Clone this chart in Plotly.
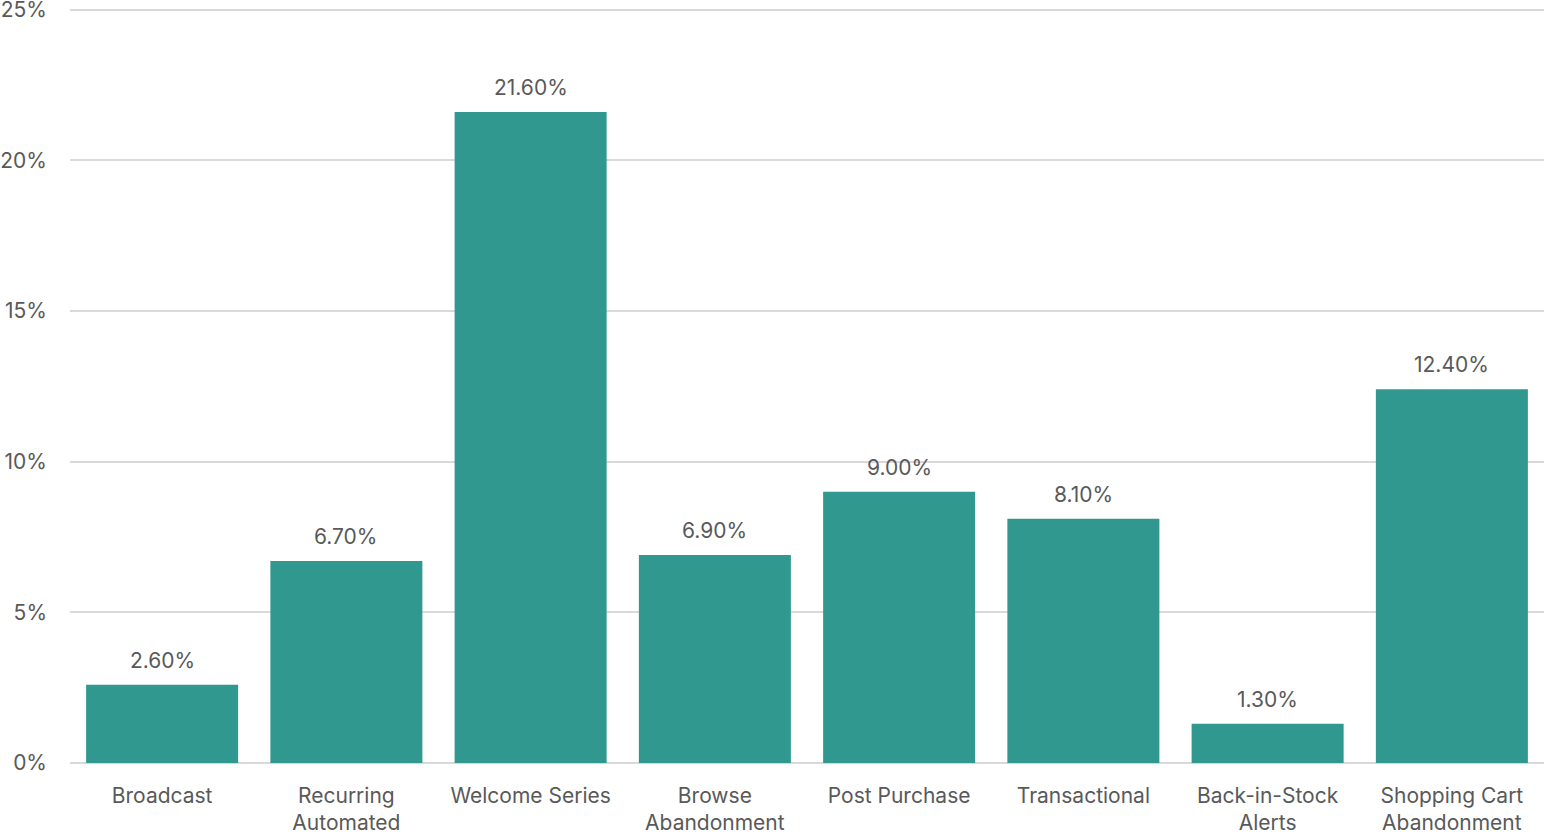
import plotly.graph_objects as go

# Email flow conversion rates by message type
categories = [
    "Broadcast",
    "Recurring<br>Automated",
    "Welcome Series",
    "Browse<br>Abandonment",
    "Post Purchase",
    "Transactional",
    "Back-in-Stock<br>Alerts",
    "Shopping Cart<br>Abandonment",
]
rates = [2.6, 6.7, 21.6, 6.9, 9.0, 8.1, 1.3, 12.4]
y_ticks = [0, 5, 10, 15, 20, 25]
y_tick_labels = ["0%", "5%", "10%", "15%", "20%", "25%"]

BAR_COLOR = "#31988f"
TEXT_COLOR = "#595959"
GRID_COLOR = "#d9d9d9"
FONT = "Inter, Roboto, sans-serif"

fig = go.Figure(
    go.Bar(
        x=categories,
        y=rates,
        marker=dict(color=BAR_COLOR, line=dict(width=0)),
        hoverinfo="skip",
    )
)

# value labels above each bar
for cat, val in zip(categories, rates):
    fig.add_annotation(
        x=cat,
        y=val,
        text=f"{val:.2f}%",
        showarrow=False,
        yanchor="bottom",
        yshift=10,
        font=dict(family=FONT, size=21, color=TEXT_COLOR),
    )

fig.update_layout(
    width=1544,
    height=836,
    margin=dict(l=70, r=0, t=8, b=73, autoexpand=False),
    paper_bgcolor="white",
    plot_bgcolor="white",
    bargap=0.175,
    showlegend=False,
    font=dict(family=FONT, size=21, color=TEXT_COLOR),
    xaxis=dict(
        automargin=False,
        showgrid=False,
        showline=False,
        ticks="",
        tickfont=dict(family=FONT, size=21, color=TEXT_COLOR),
        ticklabelstandoff=18,
        tickangle=0,
    ),
    yaxis=dict(
        automargin=False,
        range=[0, 25.05],
        tickvals=y_ticks,
        ticktext=y_tick_labels,
        showgrid=True,
        gridcolor=GRID_COLOR,
        gridwidth=2,
        zeroline=True,
        zerolinecolor=GRID_COLOR,
        zerolinewidth=2,
        showline=False,
        ticks="",
        ticklabelstandoff=22,
        ticklabeloverflow="allow",
        tickfont=dict(family=FONT, size=21, color=TEXT_COLOR),
    ),
)

fig.write_html("out.html")
